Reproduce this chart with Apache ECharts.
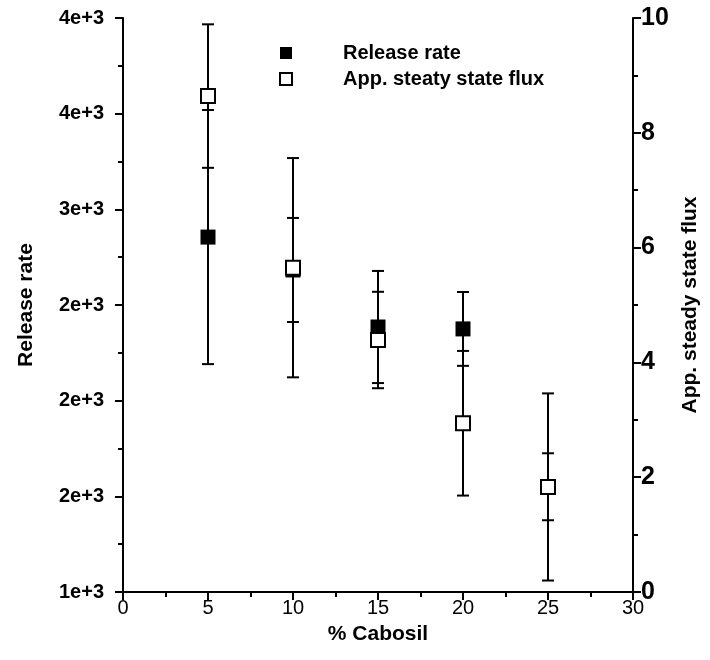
<!DOCTYPE html>
<html>
<head>
<meta charset="utf-8">
<title>Release rate vs % Cabosil</title>
<script src="https://cdn.jsdelivr.net/npm/echarts@6/dist/echarts.min.js"></script>
<style>
  html, body { margin: 0; padding: 0; background: #fff; }
  #main { width: 710px; height: 660px; }
</style>
</head>
<body>
<div id="main"></div>
<script>
// 数据
const cabosil = [5, 10, 15, 20, 25];
const releaseRate = [2855, 2683, 2385, 2375, 1550];
const releaseErr = [664, 272, 293, 193, 175];
const flux = [8.64, 5.65, 4.39, 2.94, 1.83];
const fluxErr = [1.25, 1.91, 0.84, 1.26, 1.63];
const leftTickLabels = ["1e+3", "2e+3", "2e+3", "2e+3", "3e+3", "4e+3", "4e+3"];

const FONT = "Liberation Sans, Arial, sans-serif";

// 误差棒
function errorBar(params, api) {
  const x = api.value(0);
  const lo = api.coord([x, api.value(1)]);
  const hi = api.coord([x, api.value(2)]);
  const w = 6;
  const st = { stroke: "#000", lineWidth: 2 };
  return {
    type: "group",
    children: [
      { type: "line", shape: { x1: lo[0], y1: lo[1], x2: hi[0], y2: hi[1] }, style: st },
      { type: "line", shape: { x1: lo[0] - w, y1: lo[1], x2: lo[0] + w, y2: lo[1] }, style: st },
      { type: "line", shape: { x1: hi[0] - w, y1: hi[1], x2: hi[0] + w, y2: hi[1] }, style: st }
    ]
  };
}

const releaseBars = cabosil.map((x, i) => [x, releaseRate[i] - releaseErr[i], releaseRate[i] + releaseErr[i]]);
const fluxBars = cabosil.map((x, i) => [x, flux[i] - fluxErr[i], flux[i] + fluxErr[i]]);

const axisLine = { show: true, onZero: false, lineStyle: { color: "#000", width: 2 } };
const tick = { show: true, length: 8, lineStyle: { color: "#000", width: 2 } };
const minor = { show: true, splitNumber: 2, length: 5, lineStyle: { color: "#000", width: 2 } };
const titleStyle = { fontFamily: FONT, fontWeight: "bold", fontSize: 21, color: "#000" };

const option = {
  animation: false,
  backgroundColor: "#fff",
  grid: { left: 123, right: 77, top: 18, bottom: 68 },
  legend: {
    orient: "vertical",
    left: 274,
    top: 38,
    itemWidth: 12,
    itemHeight: 12,
    itemGap: 6,
    data: ["Release rate", "App. steaty state flux"],
    textStyle: { fontFamily: FONT, fontWeight: "bold", fontSize: 20, color: "#000", padding: [0, 0, 0, 46] }
  },
  xAxis: {
    type: "value",
    min: 0,
    max: 30,
    interval: 5,
    name: "% Cabosil",
    nameLocation: "middle",
    nameGap: 32,
    nameTextStyle: titleStyle,
    axisLine: axisLine,
    axisTick: tick,
    minorTick: minor,
    splitLine: { show: false },
    axisLabel: { fontFamily: FONT, fontSize: 20, color: "#000", margin: 6 }
  },
  yAxis: [
    {
      type: "value",
      position: "left",
      min: 1000,
      max: 4000,
      interval: 500,
      name: "Release rate",
      nameLocation: "middle",
      nameGap: 86,
      nameTextStyle: titleStyle,
      axisLine: axisLine,
      axisTick: tick,
      minorTick: minor,
      splitLine: { show: false },
      axisLabel: {
        fontFamily: FONT, fontWeight: "bold", fontSize: 20, color: "#000", margin: 19,
        formatter: v => leftTickLabels[Math.round((v - 1000) / 500)]
      }
    },
    {
      type: "value",
      position: "right",
      min: 0,
      max: 10,
      interval: 2,
      name: "App. steady state flux",
      nameLocation: "middle",
      nameGap: 47,
      nameRotate: 90,
      nameTextStyle: titleStyle,
      axisLine: axisLine,
      axisTick: tick,
      minorTick: minor,
      splitLine: { show: false },
      axisLabel: { fontFamily: FONT, fontWeight: "bold", fontSize: 25, color: "#000", margin: 8 }
    }
  ],
  series: [
    {
      type: "custom",
      yAxisIndex: 0,
      renderItem: errorBar,
      encode: { x: 0, y: [1, 2] },
      data: releaseBars,
      z: 1
    },
    {
      type: "custom",
      yAxisIndex: 1,
      renderItem: errorBar,
      encode: { x: 0, y: [1, 2] },
      data: fluxBars,
      z: 1
    },
    {
      name: "Release rate",
      type: "scatter",
      yAxisIndex: 0,
      symbol: "rect",
      symbolSize: 15,
      itemStyle: { color: "#000", opacity: 1 },
      data: cabosil.map((x, i) => [x, releaseRate[i]]),
      z: 3
    },
    {
      name: "App. steaty state flux",
      type: "scatter",
      yAxisIndex: 1,
      symbol: "rect",
      symbolSize: 14,
      itemStyle: { color: "#fff", borderColor: "#000", borderWidth: 2, opacity: 1 },
      data: cabosil.map((x, i) => [x, flux[i]]),
      z: 4
    }
  ]
};

let myChart = echarts.init(document.getElementById("main"));
myChart.setOption(option);
</script>
</body>
</html>
